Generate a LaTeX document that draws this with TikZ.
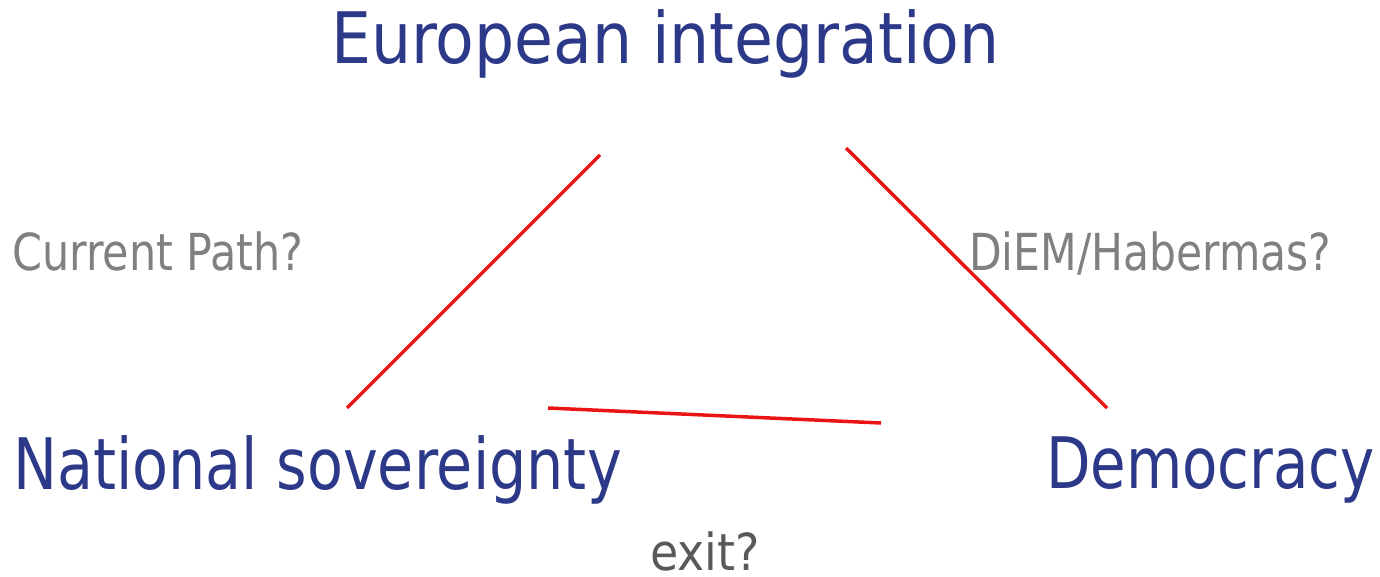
\documentclass[tikz,border=0pt]{standalone}
\usepackage{fontspec}
\setmainfont{DejaVu Sans Condensed}
\definecolor{navy}{RGB}{44,56,136}
\definecolor{lgray}{RGB}{128,128,128}
\definecolor{dgray}{RGB}{89,89,89}
\definecolor{redline}{RGB}{235,20,20}
\tikzset{
  big/.style={text=navy, font=\fontsize{71}{80}\selectfont, inner sep=0pt, anchor=base west},
  small/.style={text=lgray, font=\fontsize{51}{60}\selectfont, inner sep=0pt, anchor=base west},
  conn/.style={draw=redline, line width=3.5pt}
}
\begin{document}
\begin{tikzpicture}[x=1pt,y=-1pt]
\useasboundingbox (0,0) rectangle (1380,577);
\node[big] (eu) at (331,64) {\scalebox{0.99}[1]{European integration}};
\node[big] (ns) at (13,489) {\scalebox{0.92}[1]{National sovereignty}};
\node[big] (dem) at (1046,488) {\scalebox{0.905}[1]{Democracy}};
\node[small] (cp) at (12,270) {\scalebox{0.935}[1]{Current Path?}};
\node[small] (diem) at (969,270) {\scalebox{0.925}[1]{DiEM/Habermas?}};
\node[small, text=dgray] (exit) at (650,570) {exit?};
\coordinate (a1) at (600,155);
\coordinate (a2) at (347,408);
\coordinate (b1) at (846,148);
\coordinate (b2) at (1107,408);
\coordinate (c1) at (548,408);
\coordinate (c2) at (881,423);
\draw[conn] (a1) -- (a2);
\draw[conn] (b1) -- (b2);
\draw[conn] (c1) -- (c2);
\end{tikzpicture}
\end{document}
